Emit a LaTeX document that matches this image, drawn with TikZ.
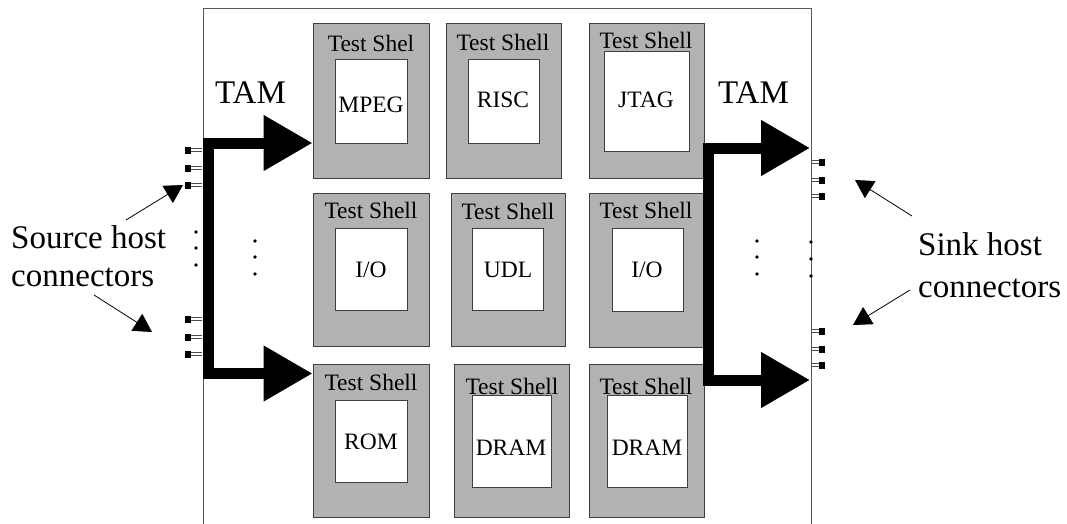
\documentclass[tikz,border=0pt]{standalone}
\usepackage{fontspec}
\setmainfont{Liberation Serif}
\usetikzlibrary{arrows.meta,fit}

\begin{document}
\begin{tikzpicture}[x=1pt,y=-1pt,
  board/.style={draw=black!65, line width=1pt},
  shell/.style={draw=black!75, fill=black!30, line width=1pt, inner sep=0pt},
  core/.style={draw=black!75, fill=white, line width=1pt, inner sep=0pt},
  coretext/.style={font=\fontsize{23.5}{26}\selectfont, inner sep=0pt},
  title/.style={font=\fontsize{23.5}{26}\selectfont, inner sep=0pt},
  big/.style={font=\fontsize{33}{38}\selectfont, inner sep=0pt, anchor=base west},
  bus/.style={line width=11pt, line join=miter,
              {Triangle[length=49pt,width=53pt]}-{Triangle[length=49pt,width=53pt]}},
  note/.style={line width=0.8pt, -{Triangle[length=18pt,width=20pt]}},
  dot/.style={circle, fill=black, inner sep=0pt, minimum size=3.6pt},
  pinL/.pic={\fill (-18,-3.5) rectangle (-12,3.5);
             \draw[line width=0.7pt, black!70] (-12,-1.6) -- (-1,-1.6) (-12,1.6) -- (-1,1.6);},
  pinR/.pic={\fill (8,-3.5) rectangle (14,3.5);
             \draw[line width=0.7pt, black!70] (1,-1.6) -- (8,-1.6) (1,1.6) -- (8,1.6);},
]
\useasboundingbox (0,0) rectangle (1067,524);

% chip outline (open at the bottom)
\draw[board] (203,524) -- (203,9) -- (811,9) -- (811,524);

% test shells
\node[shell, fit={(313,24) (429,178)}]  (s11) {};
\node[shell, fit={(446,24) (561,178)}]  (s12) {};
\node[shell, fit={(589,24) (704,178)}]  (s13) {};
\node[shell, fit={(313,193) (429,346)}] (s21) {};
\node[shell, fit={(451,193) (565,346)}] (s22) {};
\node[shell, fit={(589,193) (703,347)}] (s23) {};
\node[shell, fit={(313,364) (429,517)}] (s31) {};
\node[shell, fit={(454,364) (569,517)}] (s32) {};
\node[shell, fit={(589,364) (704,517)}] (s33) {};

% shell titles
\node[title] (t11) at (371,43)  {Test Shel};
\node[title] (t12) at (503,42)  {Test Shell};
\node[title] (t13) at (646,40)  {Test Shell};
\node[title] (t21) at (371,210) {Test Shell};
\node[title] (t22) at (508,211) {Test Shell};
\node[title] (t23) at (646,210) {Test Shell};
\node[title] (t31) at (371,382) {Test Shell};
\node[title] (t32) at (512,386) {Test Shell};
\node[title] (t33) at (646,386) {Test Shell};

% embedded cores
\node[core, fit={(335,60) (407,143)}]  (c11) {};
\node[core, fit={(468,60) (539,143)}]  (c12) {};
\node[core, fit={(604,52) (689,151)}]  (c13) {};
\node[core, fit={(335,228) (407,310)}] (c21) {};
\node[core, fit={(472,228) (543,310)}] (c22) {};
\node[core, fit={(612,228) (683,311)}] (c23) {};
\node[core, fit={(335,400) (407,482)}] (c31) {};
\node[core, fit={(472,395) (551,487)}] (c32) {};
\node[core, fit={(607,395) (687,487)}] (c33) {};

\node[coretext] (n11) at (371,105) {MPEG};
\node[coretext] (n12) at (503,100) {RISC};
\node[coretext] (n13) at (646,100) {JTAG};
\node[coretext] (n21) at (371,270) {I/O};
\node[coretext] (n22) at (508,270) {UDL};
\node[coretext] (n23) at (647,270) {I/O};
\node[coretext] (n31) at (371,442) {ROM};
\node[coretext] (n32) at (511,448) {DRAM};
\node[coretext] (n33) at (647,448) {DRAM};

% test access mechanisms
\draw[bus] (s11.west |- 0,143) -- (208.5,143) -- (208.5,373.5) -- (s31.west |- 0,373.5);
\coordinate (outR1) at (810,148);
\coordinate (outR2) at (810,380);
\draw[bus] (outR1) -- (708.5,148) -- (708.5,380) -- (outR2);

\node[big] (tamL) at (215,103) {TAM};
\node[big] (tamR) at (718,103) {TAM};

% host connectors
\foreach \y in {150,168,185,319,337,354} \pic at (203,\y) {pinL};
\foreach \y in {162,180,196,331,349,365} \pic at (811,\y) {pinR};

% ellipsis dots
\foreach \y [count=\i] in {232,248,265} \node[dot] (dl\i) at (196,\y) {};
\foreach \y [count=\i] in {241,257,274} \node[dot] (di\i) at (255,\y) {};
\foreach \y [count=\i] in {241,257,274} \node[dot] (dj\i) at (757,\y) {};
\foreach \y [count=\i] in {242,259,276} \node[dot] (dr\i) at (811,\y) {};

% annotations
\node[big] (srcA) at (11,248) {Source host};
\node[big] (srcB) at (11,286) {connectors};
\node[big] (snkA) at (918,255) {Sink host};
\node[big] (snkB) at (918,297) {connectors};

\coordinate (srcU0) at (126,220); \coordinate (srcU1) at (183,185);
\coordinate (srcD0) at (94,295);  \coordinate (srcD1) at (152,332);
\coordinate (snkU0) at (912,216); \coordinate (snkU1) at (855,180);
\coordinate (snkD0) at (910,290); \coordinate (snkD1) at (853,325);
\draw[note] (srcU0) -- (srcU1);
\draw[note] (srcD0) -- (srcD1);
\draw[note] (snkU0) -- (snkU1);
\draw[note] (snkD0) -- (snkD1);
\end{tikzpicture}
\end{document}
